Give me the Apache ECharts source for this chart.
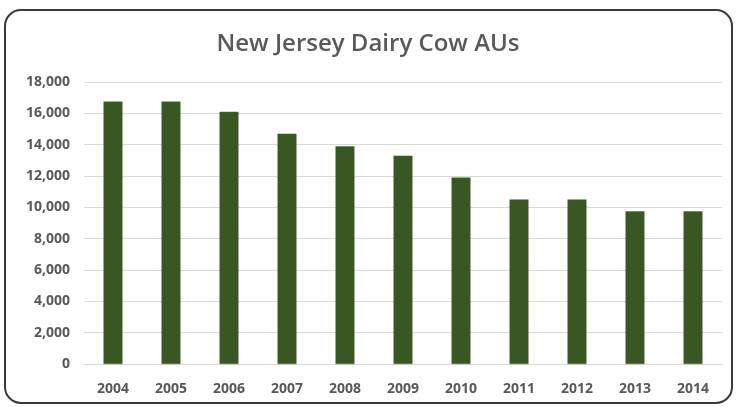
<!DOCTYPE html>
<html><head><meta charset="utf-8">
<script src="https://cdn.jsdelivr.net/npm/echarts@6/dist/echarts.min.js"></script>
<style>html,body{margin:0;padding:0;background:#fff}#c{width:736px;height:407px}</style>
</head><body><div id="c"></div>
<script>
const years = ['2004','2005','2006','2007','2008','2009','2010','2011','2012','2013','2014'];
const dairyCowAUs = [16750, 16750, 16100, 14700, 13900, 13300, 11900, 10500, 10500, 9750, 9750];
const yMin = 0, yMax = 18000, yStep = 2000;

const chart = echarts.init(document.getElementById('c'), null, {renderer:'canvas'});
chart.setOption({
  animation:false,
  backgroundColor:'#fff',
  graphic:[{type:'rect', shape:{x:5, y:10, width:727, height:393, r:16}, style:{fill:'none', stroke:'#3a3a3a', lineWidth:2}, silent:true}],
  title:{text:'New Jersey Dairy Cow AUs', left:'center', top:27,
    textStyle:{fontFamily:'Open Sans', fontSize:24, fontWeight:600, color:'#595959'}},
  grid:{left:84, right:14, top:82, bottom:43},
  xAxis:{type:'category', data:years,
    axisLine:{lineStyle:{color:'#d9d9d9'}}, axisTick:{show:false},
    axisLabel:{color:'#595959', fontFamily:'Open Sans', fontSize:14, fontWeight:'bold', margin:18}},
  yAxis:{type:'value', min:yMin, max:yMax, interval:yStep,
    axisLine:{show:false}, axisTick:{show:false},
    splitLine:{lineStyle:{color:'#d9d9d9'}},
    axisLabel:{color:'#595959', fontFamily:'Open Sans', fontSize:14, fontWeight:'bold', margin:14,
      formatter:v=>v.toLocaleString('en-US')}},
  series:[{type:'bar', data:dairyCowAUs, barWidth:19,
    itemStyle:{color:'#385723', borderColor:'#4a6a34', borderWidth:0.5}}]
});
</script></body></html>
